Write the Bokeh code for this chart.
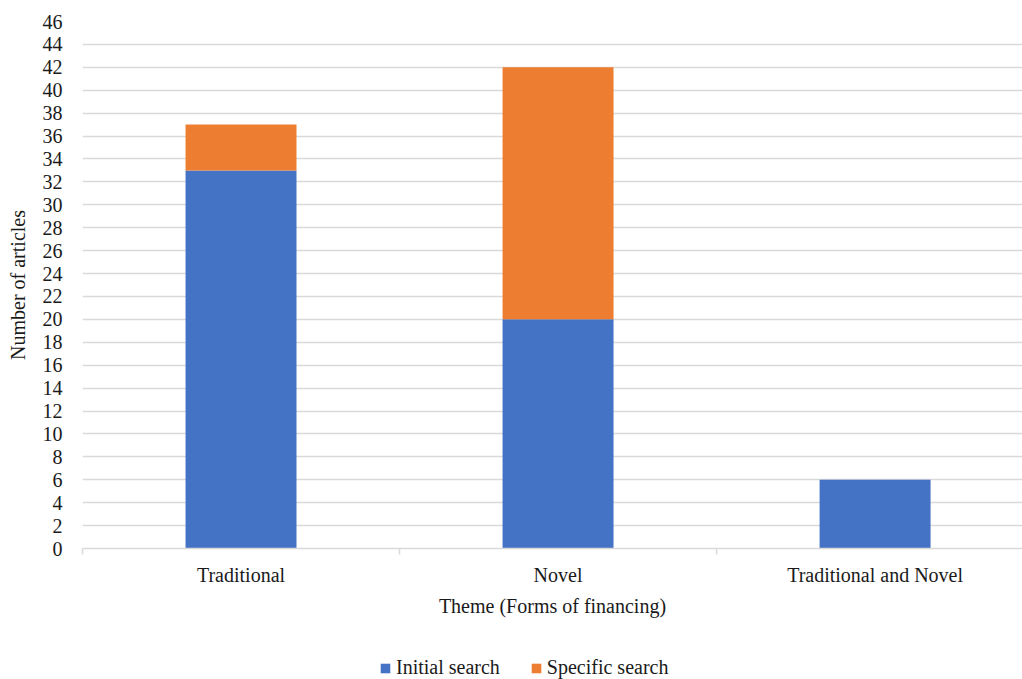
import numpy as np
from bokeh.plotting import figure
from bokeh.layouts import column
from bokeh.models import (ColumnDataSource, Range1d, FixedTicker, Legend, LegendItem)
from bokeh.embed import file_html
from bokeh.resources import INLINE

categories = ["Traditional", "Novel", "Traditional and Novel"]
initial_search = [33, 20, 6]
specific_search = [4, 22, 0]
series_names = ["Initial search", "Specific search"]
series_colors = ["#4472C4", "#ED7D31"]
y_ticks = list(range(0, 47, 2))

FONT = "Liberation Serif"
TXT = "#1a1a1a"
GRID = "#d9d9d9"
FS = "20px"

x = np.arange(len(categories)) + 0.5
source = ColumnDataSource(dict(x=x, initial=initial_search, specific=specific_search))

# the chart is cropped on the right in the reference: show ~2.965 of 3 category slots
p = figure(width=1022, height=640, x_range=Range1d(0, 2.965), y_range=Range1d(0, 46),
           output_backend="svg", toolbar_location=None,
           min_border_left=82, min_border_right=0, min_border_top=21, min_border_bottom=92)
p.outline_line_color = None
p.background_fill_color = "white"
p.border_fill_color = "white"

rs = p.vbar_stack(["initial", "specific"], x="x", width=0.35, color=series_colors,
                  line_color=None, source=source)

# grid
p.xgrid.grid_line_color = None
p.ygrid.grid_line_color = GRID
p.ygrid.grid_line_width = 1.5
p.ygrid.ticker = FixedTicker(ticks=y_ticks)

# y axis
p.yaxis.ticker = FixedTicker(ticks=y_ticks)
p.yaxis.axis_line_color = None
p.yaxis.major_tick_line_color = None
p.yaxis.minor_tick_line_color = None
p.yaxis.major_tick_out = 0
p.yaxis.major_tick_in = 0
p.yaxis.major_label_standoff = 20
p.yaxis.axis_label = "Number of articles"
p.yaxis.axis_label_standoff = 11
p.yaxis.axis_label_text_font = FONT
p.yaxis.axis_label_text_font_style = "normal"
p.yaxis.axis_label_text_font_size = FS
p.yaxis.axis_label_text_color = TXT
p.yaxis.major_label_text_font = FONT
p.yaxis.major_label_text_font_size = FS
p.yaxis.major_label_text_color = TXT

# x axis
p.xaxis.ticker = FixedTicker(ticks=list(x), minor_ticks=list(range(len(categories) + 1)))
p.xaxis.major_label_overrides = {float(xx): c for xx, c in zip(x, categories)}
p.xaxis.axis_line_color = GRID
p.xaxis.axis_line_width = 1.5
p.xaxis.major_tick_line_color = None
p.xaxis.major_tick_out = 0
p.xaxis.major_tick_in = 0
p.xaxis.minor_tick_line_color = GRID
p.xaxis.minor_tick_line_width = 1.5
p.xaxis.minor_tick_out = 6
p.xaxis.minor_tick_in = 0
p.xaxis.major_label_standoff = 9
p.xaxis.major_label_text_font = FONT
p.xaxis.major_label_text_font_size = FS
p.xaxis.major_label_text_color = TXT
p.xaxis.axis_label = "Theme (Forms of financing)"
p.xaxis.axis_label_standoff = 6
p.xaxis.axis_label_text_font = FONT
p.xaxis.axis_label_text_font_style = "normal"
p.xaxis.axis_label_text_font_size = FS
p.xaxis.axis_label_text_color = TXT

# legend strip (separate small figure under the chart); key glyphs sit outside its visible range
lf = figure(width=1022, height=39, x_range=Range1d(0, 1), y_range=Range1d(0, 1),
            output_backend="svg", toolbar_location=None, x_axis_type=None, y_axis_type=None,
            min_border=0, min_border_left=0, min_border_right=0, min_border_top=0, min_border_bottom=0)
lf.outline_line_color = None
lf.xgrid.visible = False
lf.ygrid.visible = False
key_renderers = [lf.vbar(x=[5], top=[1], width=0.1, color=c, line_color=None) for c in series_colors]
legend = Legend(items=[LegendItem(label=n, renderers=[r]) for n, r in zip(series_names, key_renderers)],
                orientation="horizontal", location=(297, 0),
                glyph_width=12, glyph_height=12, label_height=20, label_standoff=5, spacing=30,
                padding=0, margin=0, border_line_color=None, background_fill_alpha=0,
                label_text_font=FONT, label_text_font_size=FS, label_text_color=TXT)
lf.add_layout(legend, "center")

layout = column(p, lf, spacing=0)
open("out.html", "w").write(file_html(layout, INLINE))
